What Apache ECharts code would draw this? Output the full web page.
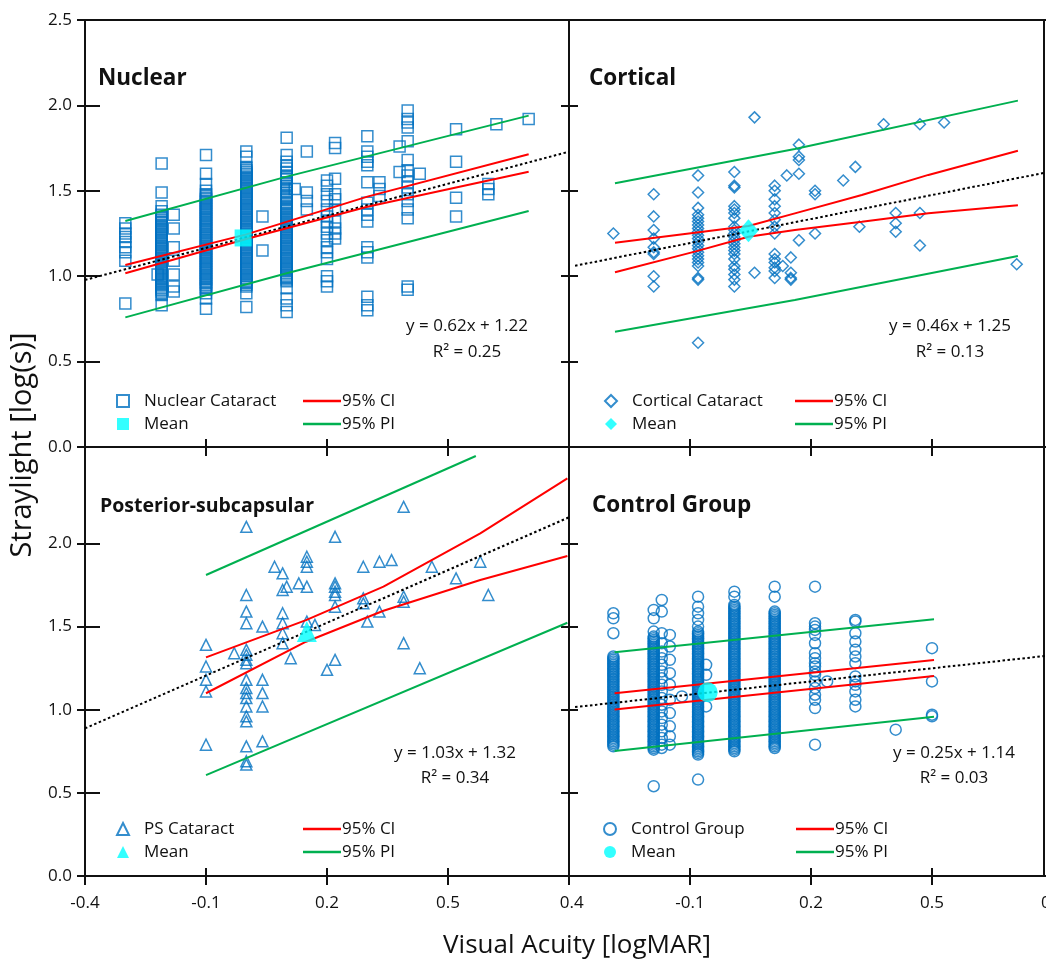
<!DOCTYPE html>
<html><head><meta charset="utf-8">
<script src="https://cdn.jsdelivr.net/npm/echarts@6/dist/echarts.min.js"></script>
<style>html,body{margin:0;padding:0;background:#fff}#c{width:1046px;height:962px}</style>
</head><body><div id="c"></div>
<script>
// ---------------- DATA ----------------
const xTicks = [-0.4, -0.1, 0.2, 0.5, 0.8];
const xLabelsLeft = [-0.4, -0.1, 0.2, 0.5];
const xLabelsRight = [-0.4, -0.1, 0.2, 0.5, 0.8];
const yTicksTop = [0, 0.5, 1, 1.5, 2, 2.5];
const yTicksBottom = [0, 0.5, 1, 1.5, 2];

// Nuclear cataract: [x, [y values]]
const nuclearCols = [
 [-0.30, [1.31,1.28,1.25,1.23,1.20,1.17,1.14,1.09,0.84]],
 [-0.21, [1.66,1.49,1.41,1.38,1.35,1.33,1.31,1.29,1.27,1.25,1.23,1.21,1.19,1.17,1.15,1.13,1.11,1.09,1.07,1.05,1.03,1.01,0.99,0.97,0.95,0.93,0.91,0.89,0.83]],
 [-0.21, [1.36,1.34,1.32,1.30,1.28,1.26,1.24,1.22,1.20,1.18,1.16,1.14,1.12,1.10,1.08,1.06,1.04,1.02,1.00,0.98,0.96,0.94,0.92,0.90]],
 [-0.22, [1.01]],
 [-0.18, [1.36,1.28,1.17,1.09,1.01,0.94,0.91]],
 [-0.10, [1.71,1.60,1.54,1.50,1.48,1.46,1.44,1.42,1.40,1.38,1.36,1.34,1.32,1.30,1.28,1.26,1.24,1.22,1.20,1.18,1.16,1.14,1.12,1.10,1.08,1.06,1.04,1.02,1.00,0.98,0.96,0.94,0.92,0.90,0.87,0.81]],
 [-0.10, [1.47,1.45,1.43,1.41,1.39,1.37,1.35,1.33,1.31,1.29,1.27,1.25,1.23,1.21,1.19,1.17,1.15,1.13,1.11,1.09,1.07,1.05,1.03,1.01,0.99,0.97,0.95,0.93]],
 [0.00, [1.73,1.70,1.64,1.62,1.60,1.58,1.56,1.54,1.52,1.50,1.48,1.46,1.44,1.42,1.40,1.38,1.36,1.34,1.32,1.30,1.28,1.26,1.24,1.22,1.20,1.18,1.16,1.14,1.12,1.10,1.08,1.06,1.04,1.02,1.00,0.98,0.96,0.94,0.90,0.82]],
 [0.00, [1.63,1.61,1.59,1.57,1.55,1.53,1.51,1.49,1.47,1.45,1.43,1.41,1.39,1.37,1.35,1.33,1.31,1.29,1.27,1.25,1.23,1.21,1.19,1.17,1.15,1.13,1.11,1.09,1.07,1.05,1.03,1.01,0.99,0.97,0.95]],
 [0.04, [1.35,1.15]],
 [0.10, [1.81,1.71,1.67,1.65,1.63,1.61,1.59,1.57,1.55,1.53,1.51,1.49,1.47,1.45,1.43,1.41,1.39,1.37,1.35,1.33,1.31,1.29,1.27,1.25,1.23,1.21,1.19,1.17,1.15,1.13,1.11,1.09,1.07,1.05,1.03,1.01,0.99,0.97,0.93,0.87,0.83,0.79]],
 [0.10, [1.58,1.54,1.50,1.46,1.42,1.40,1.38,1.36,1.34,1.32,1.30,1.28,1.26,1.24,1.22,1.20,1.18,1.16,1.14,1.12,1.10,1.08,1.06,1.04,1.02,1.00,0.98]],
 [0.12, [1.51]],
 [0.15, [1.73,1.49,1.44,1.39]],
 [0.20, [1.56,1.53,1.48,1.44,1.39,1.35,1.32,1.29,1.25,1.21,1.17,1.14,1.10,1.00,0.97,0.94]],
 [0.22, [1.78,1.75,1.57,1.48,1.45,1.39,1.32,1.28,1.25,1.22]],
 [0.30, [1.82,1.73,1.70,1.67,1.65,1.55,1.43,1.39,1.36,1.32,1.17,1.14,1.11,0.88,0.83,0.80]],
 [0.33, [1.55,1.51,1.47]],
 [0.38, [1.76,1.61]],
 [0.40, [1.97,1.92,1.90,1.87,1.79,1.68,1.62,1.59,1.55,1.52,1.48,1.44,1.39,1.34,0.94,0.92]],
 [0.43, [1.60]],
 [0.52, [1.86,1.67,1.46,1.35]],
 [0.60, [1.54,1.51,1.48]],
 [0.62, [1.89]],
 [0.70, [1.92]]
];
const nuclearMean = [-0.008, 1.224];
const nuclearFit  = [[-0.4, 0.978], [0.8, 1.729]];
const nuclearCIup = [[-0.30, 1.066], [0.0, 1.245], [0.30, 1.466], [0.70, 1.714]];
const nuclearCIlo = [[-0.30, 1.017], [0.0, 1.218], [0.30, 1.407], [0.70, 1.612]];
const nuclearPIup = [[-0.30, 1.323], [0.10, 1.583], [0.70, 1.940]];
const nuclearPIlo = [[-0.30, 0.759], [0.10, 1.017], [0.70, 1.382]];

// Cortical cataract
const corticalCols = [
 [-0.29, [1.25]],
 [-0.19, [1.48,1.35,1.27,1.22,1.17,1.14,1.13,1.00,0.94]],
 [-0.08, [1.59,1.49,1.40,1.36,1.34,1.32,1.30,1.28,1.26,1.24,1.22,1.20,1.18,1.16,1.14,1.12,1.10,1.08,1.06,0.99,0.98,0.61]],
 [0.01, [1.61,1.53,1.52,1.41,1.39,1.37,1.34,1.29,1.27,1.25,1.23,1.21,1.19,1.17,1.15,1.13,1.10,1.06,1.04,1.01,0.98,0.94]],
 [0.06, [1.93,1.02]],
 [0.11, [1.53,1.50,1.45,1.41,1.37,1.33,1.29,1.25,1.13,1.10,1.08,1.05,1.03,0.99]],
 [0.13, [1.06]],
 [0.14, [1.59]],
 [0.15, [1.11,1.02,0.99,0.98]],
 [0.17, [1.77,1.70,1.68,1.60,1.21]],
 [0.21, [1.50,1.48,1.25]],
 [0.28, [1.56]],
 [0.31, [1.64]],
 [0.32, [1.29]],
 [0.38, [1.89]],
 [0.41, [1.37,1.31,1.26]],
 [0.47, [1.89,1.37,1.18]],
 [0.53, [1.90]],
 [0.71, [1.07]]
];
const corticalMean = [0.045, 1.266];
const corticalFit  = [[-0.385, 1.061], [0.78, 1.606]];
const corticalCIup = [[-0.286, 1.196], [-0.088, 1.255], [0.045, 1.294], [0.16, 1.368], [0.326, 1.475], [0.491, 1.593], [0.713, 1.735]];
const corticalCIlo = [[-0.286, 1.023], [-0.088, 1.144], [0.045, 1.231], [0.16, 1.270], [0.326, 1.319], [0.491, 1.368], [0.713, 1.415]];
const corticalPIup = [[-0.286, 1.544], [0.16, 1.745], [0.713, 2.028]];
const corticalPIlo = [[-0.286, 0.675], [0.16, 0.861], [0.713, 1.118]];

// Posterior-subcapsular cataract
const psCols = [
 [-0.10, [1.39,1.26,1.18,1.11,0.79]],
 [-0.03, [1.34]],
 [0.00, [2.10,1.69,1.59,1.52,1.36,1.33,1.30,1.28,1.18,1.13,1.10,1.07,1.02,0.96,0.93,0.78,0.69,0.67]],
 [0.04, [1.50,1.18,1.10,1.02,0.81]],
 [0.07, [1.86]],
 [0.09, [1.82,1.72,1.58,1.52,1.46,1.40]],
 [0.10, [1.74]],
 [0.11, [1.31]],
 [0.13, [1.76]],
 [0.15, [1.92,1.89,1.86,1.74,1.53]],
 [0.17, [1.51]],
 [0.20, [1.24]],
 [0.22, [2.04,1.76,1.74,1.71,1.69,1.62,1.30]],
 [0.29, [1.86,1.67,1.64]],
 [0.30, [1.53]],
 [0.33, [1.89,1.59]],
 [0.36, [1.90]],
 [0.39, [2.22,1.68,1.65,1.40]],
 [0.43, [1.25]],
 [0.46, [1.86]],
 [0.52, [1.79]],
 [0.58, [1.89]],
 [0.60, [1.69]]
];
const psMean = [0.15, 1.47];
const psFit  = [[-0.4, 0.888], [0.8, 2.157]];
const psCIup = [[-0.10, 1.315], [0.148, 1.539], [0.34, 1.740], [0.58, 2.061], [0.796, 2.391]];
const psCIlo = [[-0.10, 1.099], [0.148, 1.409], [0.34, 1.595], [0.58, 1.780], [0.796, 1.924]];
const psPIup = [[-0.10, 1.810], [0.569, 2.526]];
const psPIlo = [[-0.10, 0.607], [0.796, 1.523]];

// Control group
const controlCols = [
 [-0.29, [1.58,1.55,1.46,1.32,1.30,1.28,1.26,1.24,1.22,1.20,1.18,1.16,1.14,1.12,1.10,1.08,1.06,1.04,1.02,1.00,0.98,0.96,0.94,0.92,0.90,0.88,0.86,0.84,0.82,0.80,0.78]],
 [-0.29, [1.31,1.29,1.27,1.25,1.23,1.21,1.19,1.17,1.15,1.13,1.11,1.09,1.07,1.05,1.03,1.01,0.99,0.97,0.95,0.93,0.91,0.89,0.87,0.85,0.83,0.81,0.79]],
 [-0.19, [1.60,1.55,1.47,1.44,1.42,1.40,1.38,1.36,1.34,1.32,1.30,1.28,1.26,1.24,1.22,1.20,1.18,1.16,1.14,1.12,1.10,1.08,1.06,1.04,1.02,1.00,0.98,0.96,0.94,0.92,0.90,0.88,0.86,0.84,0.82,0.80,0.78,0.76,0.54]],
 [-0.19, [1.43,1.41,1.39,1.37,1.35,1.33,1.31,1.29,1.27,1.25,1.23,1.21,1.19,1.17,1.15,1.13,1.11,1.09,1.07,1.05,1.03,1.01,0.99,0.97,0.95,0.93,0.91,0.89,0.87,0.85,0.83,0.81,0.79,0.77]],
 [-0.17, [1.66,1.59,1.46,1.40,1.35,1.31,1.27,1.23,1.19,1.15,1.11,1.07,1.03,0.99,0.95,0.91,0.87,0.83,0.79,0.77]],
 [-0.15, [1.45,1.38,1.30,1.22,1.15,1.06,0.98,0.90,0.84,0.79]],
 [-0.12, [1.08]],
 [-0.08, [1.68,1.62,1.58,1.54,1.50,1.47,1.45,1.43,1.41,1.39,1.37,1.35,1.33,1.31,1.29,1.27,1.25,1.23,1.21,1.19,1.17,1.15,1.13,1.11,1.09,1.07,1.05,1.03,1.01,0.99,0.97,0.95,0.93,0.91,0.89,0.87,0.85,0.83,0.81,0.79,0.77,0.75,0.73,0.58]],
 [-0.08, [1.46,1.44,1.42,1.40,1.38,1.36,1.34,1.32,1.30,1.28,1.26,1.24,1.22,1.20,1.18,1.16,1.14,1.12,1.10,1.08,1.06,1.04,1.02,1.00,0.98,0.96,0.94,0.92,0.90,0.88,0.86,0.84,0.82,0.80,0.78,0.76,0.74]],
 [-0.06, [1.27,1.21,1.02]],
 [0.01, [1.71,1.68,1.63,1.61,1.59,1.57,1.55,1.53,1.51,1.49,1.47,1.45,1.43,1.41,1.39,1.37,1.35,1.33,1.31,1.29,1.27,1.25,1.23,1.21,1.19,1.17,1.15,1.13,1.11,1.09,1.07,1.05,1.03,1.01,0.99,0.97,0.95,0.93,0.91,0.89,0.87,0.85,0.83,0.81,0.79,0.77,0.75]],
 [0.01, [1.62,1.60,1.58,1.56,1.54,1.52,1.50,1.48,1.46,1.44,1.42,1.40,1.38,1.36,1.34,1.32,1.30,1.28,1.26,1.24,1.22,1.20,1.18,1.16,1.14,1.12,1.10,1.08,1.06,1.04,1.02,1.00,0.98,0.96,0.94,0.92,0.90,0.88,0.86,0.84,0.82,0.80,0.78,0.76]],
 [0.11, [1.74,1.68,1.59,1.57,1.55,1.53,1.51,1.49,1.47,1.45,1.43,1.41,1.39,1.37,1.35,1.33,1.31,1.29,1.27,1.25,1.23,1.21,1.19,1.17,1.15,1.13,1.11,1.09,1.07,1.05,1.03,1.01,0.99,0.97,0.95,0.93,0.91,0.89,0.87,0.85,0.83,0.81,0.79,0.77]],
 [0.11, [1.58,1.56,1.54,1.52,1.50,1.48,1.46,1.44,1.42,1.40,1.38,1.36,1.34,1.32,1.30,1.28,1.26,1.24,1.22,1.20,1.18,1.16,1.14,1.12,1.10,1.08,1.06,1.04,1.02,1.00,0.98,0.96,0.94,0.92,0.90,0.88,0.86,0.84,0.82,0.80,0.78]],
 [0.21, [1.74,1.52,1.50,1.48,1.45,1.40,1.34,1.31,1.28,1.26,1.23,1.21,1.17,1.13,1.09,1.06,1.01,0.79]],
 [0.24, [1.17]],
 [0.31, [1.54,1.53,1.46,1.41,1.36,1.32,1.28,1.20,1.17,1.15,1.11,1.06,1.02]],
 [0.41, [0.88]],
 [0.50, [1.37,1.17,0.97,0.96]]
];
const controlMean = [-0.056, 1.105];
const controlFit  = [[-0.385, 1.016], [0.78, 1.323]];
const controlCIup = [[-0.287, 1.099], [0.505, 1.299]];
const controlCIlo = [[-0.287, 1.002], [0.505, 1.203]];
const controlPIup = [[-0.287, 1.345], [0.505, 1.544]];
const controlPIlo = [[-0.287, 0.752], [0.505, 0.958]];

// ---------------- STYLE / LAYOUT ----------------
const BLUE = '#0070C0', CYAN = '#00FFFF', RED = '#FF0000', GREEN = '#00B050', AX = '#111', TXT = '#111';
const FONT = '"Open Sans", "Liberation Sans", sans-serif';

function flat(cols) { const out = []; cols.forEach(([x, ys]) => ys.forEach(y => out.push([x, y]))); return out; }

const panels = [
 { grid:{left:85, top:20, width:484, height:427}, yMax:2.5, yTicks:yTicksTop, yLabels:yTicksTop, xLabels:null, top:true, rightBorder:false, innerY:15,
   cols:nuclearCols, symbol:'rect', size:11, ptsName:'Nuclear Cataract', mean:nuclearMean, meanSymbol:'rect', meanSize:17,
   fit:nuclearFit, ciUp:nuclearCIup, ciLo:nuclearCIlo, piUp:nuclearPIup, piLo:nuclearPIlo,
   legL:{left:116, top:392.5}, legR:{left:303, top:392.5} },
 { grid:{left:569, top:20, width:484, height:427}, yMax:2.5, yTicks:yTicksTop, yLabels:null, xLabels:null, top:true, rightBorder:true, innerY:9,
   cols:corticalCols, symbol:'diamond', size:11, ptsName:'Cortical Cataract', mean:corticalMean, meanSymbol:'diamond', meanSize:[20,23],
   fit:corticalFit, ciUp:corticalCIup, ciLo:corticalCIlo, piUp:corticalPIup, piLo:corticalPIlo,
   legL:{left:604, top:392.5}, legR:{left:795, top:392.5} },
 { grid:{left:85, top:447, width:484, height:429}, yMax:2.58, yTicks:yTicksBottom, yLabels:yTicksBottom, xLabels:xLabelsLeft, top:false, rightBorder:false, innerY:15,
   cols:psCols, symbol:'triangle', size:11, ptsName:'PS Cataract', mean:psMean, meanSymbol:'triangle', meanSize:[20,21],
   fit:psFit, ciUp:psCIup, ciLo:psCIlo, piUp:psPIup, piLo:psPIlo,
   legL:{left:116, top:820.5}, legR:{left:303, top:820.5} },
 { grid:{left:569, top:447, width:484, height:429}, yMax:2.58, yTicks:yTicksBottom, yLabels:null, xLabels:xLabelsRight, top:false, rightBorder:true, innerY:9,
   cols:controlCols, symbol:'circle', size:11, ptsName:'Control Group', mean:controlMean, meanSymbol:'circle', meanSize:20,
   fit:controlFit, ciUp:controlCIup, ciLo:controlCIlo, piUp:controlPIup, piLo:controlPIlo,
   legL:{left:603, top:820.5}, legR:{left:796, top:820.5} }
];

const grid = [], xAxis = [], yAxis = [], series = [], legend = [];
const labelStyle = { color: TXT, fontFamily: FONT, fontSize: 17 };

panels.forEach((P, i) => {
  grid.push(Object.assign({ outerBoundsMode:'none', containLabel:false }, P.grid));
  const xi = xAxis.length;
  xAxis.push({ type:'value', gridIndex:i, position:'bottom', min:-0.4, max:0.8,
    axisLine:{ show:true, onZero:false, lineStyle:{ color:AX, width:2 } },
    axisTick:{ show:true, inside:false, length:9, customValues:xTicks, lineStyle:{ color:AX, width:2 } },
    axisLabel:Object.assign({ show:!!P.xLabels, customValues:P.xLabels || [], margin:19, hideOverlap:false,
      formatter:(v) => (i === 3 && Math.abs(v + 0.4) < 1e-9) ? '{h|-}0.4' : Number(v).toFixed(1),
      rich:{ h:{ color:'rgba(0,0,0,0)', fontFamily:FONT, fontSize:17 } } }, labelStyle),
    splitLine:{ show:false } });
  xAxis.push({ type:'value', gridIndex:i, position:'bottom', min:-0.4, max:0.8,
    axisLine:{ show:false, onZero:false },
    axisTick:{ show:true, inside:true, length:8, customValues:xTicks, lineStyle:{ color:AX, width:2 } },
    axisLabel:{ show:false }, splitLine:{ show:false } });
  if (P.top) xAxis.push({ type:'value', gridIndex:i, position:'top', min:-0.4, max:0.8,
    axisLine:{ show:true, onZero:false, lineStyle:{ color:AX, width:2 } },
    axisTick:{ show:false }, axisLabel:{ show:false }, splitLine:{ show:false } });

  const yi = yAxis.length;
  yAxis.push({ type:'value', gridIndex:i, position:'left', min:0, max:P.yMax,
    axisLine:{ show:true, onZero:false, lineStyle:{ color:AX, width:2 } },
    axisTick:{ show:true, inside:false, length:8, customValues:P.yTicks, lineStyle:{ color:AX, width:2 } },
    axisLabel:Object.assign({ show:!!P.yLabels, customValues:P.yLabels || [], margin:13,
      formatter:(v) => Number(v).toFixed(1) }, labelStyle),
    splitLine:{ show:false } });
  yAxis.push({ type:'value', gridIndex:i, position:'left', min:0, max:P.yMax,
    axisLine:{ show:false, onZero:false },
    axisTick:{ show:true, inside:true, length:P.innerY, customValues:P.yTicks, lineStyle:{ color:AX, width:2 } },
    axisLabel:{ show:false }, splitLine:{ show:false } });
  if (P.rightBorder) yAxis.push({ type:'value', gridIndex:i, position:'right', offset:-9, min:0, max:P.yMax,
    axisLine:{ show:true, onZero:false, lineStyle:{ color:AX, width:2 } },
    axisTick:{ show:false }, axisLabel:{ show:false }, splitLine:{ show:false } });

  const base = { xAxisIndex:xi, yAxisIndex:yi, silent:true, animation:false };
  const ln = (name, data, color, type, z) => Object.assign({ type:'line', name:name + '#' + i, data:data, symbol:'none', z:z,
    lineStyle:{ color:color, width:2, type:type }, itemStyle:{ color:color } }, base);
  series.push(Object.assign({ type:'scatter', name:P.ptsName + '#' + i, data:flat(P.cols), symbol:P.symbol, symbolSize:P.size, z:2,
    itemStyle:{ color:'rgba(0,0,0,0)', borderColor:BLUE, borderWidth:1.5 } }, base));
  series.push(ln('fit', P.fit, '#000', [2.5, 2.5], 3));
  series.push(ln('95% CI', P.ciUp, RED, 'solid', 3));
  series.push(ln('ci lower', P.ciLo, RED, 'solid', 3));
  series.push(ln('95% PI', P.piUp, GREEN, 'solid', 3));
  series.push(ln('pi lower', P.piLo, GREEN, 'solid', 3));
  series.push(Object.assign({ type:'scatter', name:'Mean#' + i, data:[P.mean], symbol:P.meanSymbol, symbolSize:P.meanSize, z:4,
    itemStyle:{ color:CYAN } }, base));

  legend.push({ orient:'vertical', left:P.legL.left, top:P.legL.top, padding:0, itemGap:6, itemWidth:12, itemHeight:12,
    selectedMode:false, data:[P.ptsName + '#' + i, 'Mean#' + i], formatter:(n) => n.split('#')[0],
    textStyle:{ fontFamily:FONT, fontSize:17, color:TXT, lineHeight:17, padding:[0, 0, 0, 10] } });
  legend.push({ orient:'vertical', left:P.legR.left, top:P.legR.top, padding:0, itemGap:6, itemWidth:38, itemHeight:2.5,
    symbolKeepAspect:false, selectedMode:false,
    data:[{ name:'95% CI#' + i, icon:'rect' }, { name:'95% PI#' + i, icon:'rect' }], formatter:(n) => n.split('#')[0],
    textStyle:{ fontFamily:FONT, fontSize:17, color:TXT, lineHeight:17, padding:[0, 0, 0, -4] } });
});

function txt(text, x, y, font, align, rot) {
  return { type:'text', x:x, y:y, rotation:rot || 0, silent:true, z:10,
    style:{ text:text, font:font, fill:TXT, textAlign:align, textVerticalAlign:'middle', align:align, verticalAlign:'middle' } };
}
const TITLE = 'bold 22.5px ' + FONT;
const EQ = '17px ' + FONT;
const graphic = [
  txt('Nuclear', 98, 79, TITLE, 'left'),
  txt('Cortical', 589, 79, TITLE, 'left'),
  txt('Posterior-subcapsular', 100, 506, 'bold 19.5px ' + FONT, 'left'),
  txt('Control Group', 592, 506, TITLE, 'left'),
  txt('y = 0.62x + 1.22', 467, 326, EQ, 'center'),
  txt('R² = 0.25', 467, 352, EQ, 'center'),
  txt('y = 0.46x + 1.25', 950, 326, EQ, 'center'),
  txt('R² = 0.13', 950, 352, EQ, 'center'),
  txt('y = 1.03x + 1.32', 455, 753, EQ, 'center'),
  txt('R² = 0.34', 455, 778, EQ, 'center'),
  txt('y = 0.25x + 1.14', 954, 753, EQ, 'center'),
  txt('R² = 0.03', 954, 778, EQ, 'center'),
  txt('Straylight [log(s)]', 23, 445, '29px ' + FONT, 'center', Math.PI / 2),
  txt('Visual Acuity [logMAR]', 577, 946, '26px ' + FONT, 'center')
];

const chart = echarts.init(document.getElementById('c'), null, { renderer:'canvas' });
chart.setOption({ animation:false, backgroundColor:'#fff', grid, xAxis, yAxis, series, legend, graphic });
</script></body></html>
